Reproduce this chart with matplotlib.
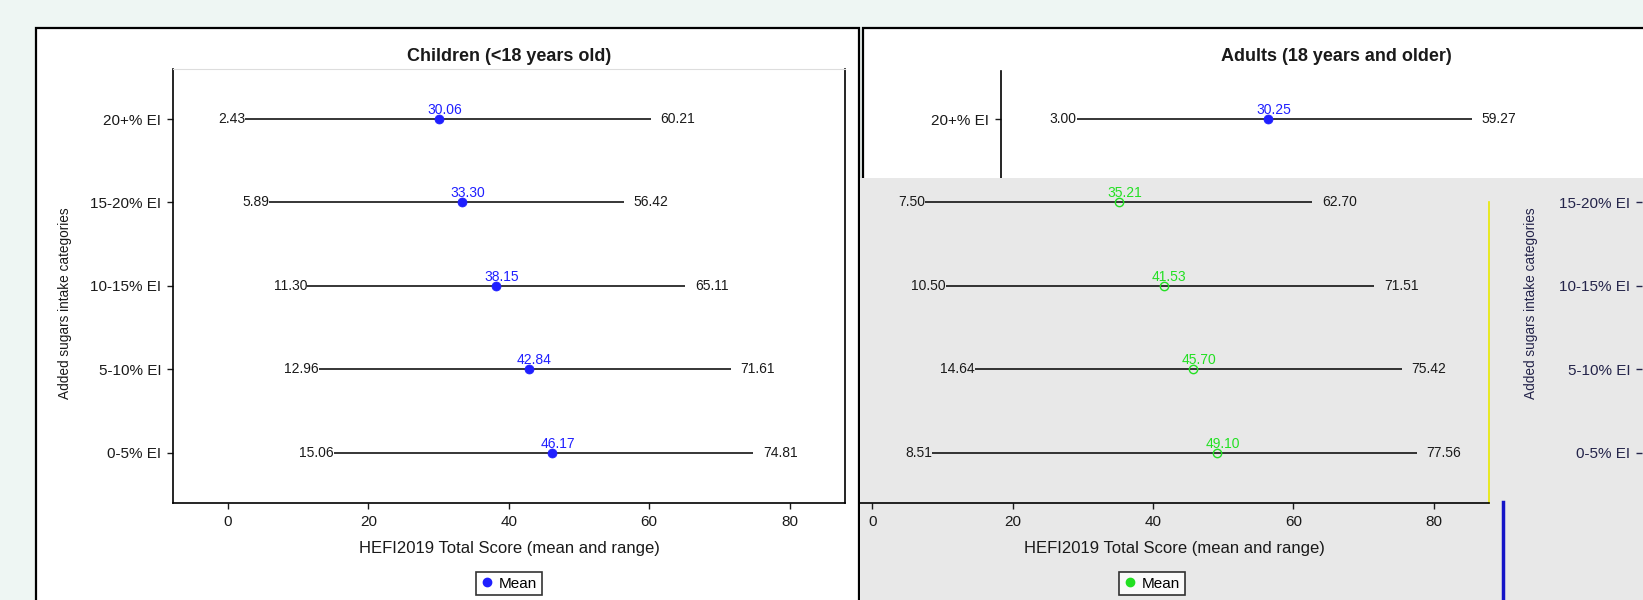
import numpy as np
import matplotlib
matplotlib.use("Agg")
import matplotlib.pyplot as plt
from matplotlib.patches import Rectangle
from matplotlib.lines import Line2D

# added-sugar categories, bottom row first
categories = ["0-5% EI", "5-10% EI", "10-15% EI", "15-20% EI", "20+% EI"]

child_min = [15.06, 12.96, 11.30, 5.89, 2.43]
child_mean = [46.17, 42.84, 38.15, 33.30, 30.06]
child_max = [74.81, 71.61, 65.11, 56.42, 60.21]

adult_min = [8.51, 14.64, 10.50, 7.50, 3.00]
adult_mean = [49.10, 45.70, 41.53, 35.21, 30.25]
adult_max = [77.56, 75.42, 71.51, 62.70, 59.27]

x_ticks = [0, 20, 40, 60, 80]

W, H = 1643, 600
BLUE = "#1f1fff"
GREEN = "#22e022"
INK = "#1a1a1a"
NAVY_INK = "#24244a"
GREY_BG = "#e8e8e8"


def px_box(x0, y0, x1, y1):
    return [x0 / W, 1 - y1 / H, (x1 - x0) / W, (y1 - y0) / H]


def px_pt(x, y):
    return x / W, 1 - y / H


def draw_ranges(ax, lo, mid, hi, color, hollow=False):
    y = np.arange(1, len(categories) + 1)
    ax.hlines(y, lo, hi, color="black", lw=1.1, zorder=2)
    ax.plot(mid, y, "o", ls="none", ms=6 if hollow else 6.5,
            mfc="none" if hollow else color, mec=color,
            mew=1.0 if hollow else 0.5, zorder=3)
    for yi, a, m, b in zip(y, lo, mid, hi):
        ax.annotate(f"{a:.2f}", (a, yi), xytext=(0, 0), textcoords="offset points",
                    ha="right", va="center", fontsize=10, color=INK)
        ax.annotate(f"{b:.2f}", (b, yi), xytext=(7, 0), textcoords="offset points",
                    ha="left", va="center", fontsize=10, color=INK)
        ax.annotate(f"{m:.2f}", (m, yi), xytext=(4, 1.5), textcoords="offset points",
                    ha="center", va="bottom", fontsize=10, color=color)


def style_x(ax):
    ax.set_xticks(x_ticks)
    ax.tick_params(axis="x", direction="out", length=4.5, width=1, pad=4,
                   labelsize=11, colors=INK)
    ax.set_xlabel("HEFI2019 Total Score (mean and range)", fontsize=12,
                  color=INK, labelpad=9)


def style_y(ax, label_color=INK):
    ax.set_yticks(np.arange(1, len(categories) + 1))
    ax.set_yticklabels(categories)
    ax.tick_params(axis="y", direction="out", length=4.5, width=1, pad=4,
                   labelsize=11, colors=label_color)


def add_legend(color, center):
    h = Line2D([], [], marker="o", ls="none", color=color, ms=6, label="Mean")
    leg = fig.legend(handles=[h], loc="center", bbox_to_anchor=px_pt(*center),
                     bbox_transform=fig.transFigure, frameon=True, fancybox=False,
                     edgecolor="black", fontsize=11, handlelength=0.8,
                     handletextpad=0.4, borderpad=0.3, borderaxespad=0)
    leg.get_frame().set_linewidth(1.2)
    leg.set_zorder(4)
    return leg


plt.rcParams["font.family"] = ["Liberation Sans", "DejaVu Sans"]

fig = plt.figure(figsize=(W / 100, H / 100), dpi=100, facecolor="#eef6f3")

# white panel frames
for x0, x1 in [(35.7, 858.5), (863.0, 1700.0)]:
    fig.patches.append(Rectangle(px_pt(x0, 640), (x1 - x0) / W, (640 - 27.7) / H,
                                 transform=fig.transFigure, facecolor="white",
                                 edgecolor="black", lw=1.6, zorder=-1))

XLIM = (-7.8, 87.9)
YLIM = (0.4, 5.6)
ax_w = 845.0 - 173.3
px_per_row = (502.7 - 69) / (YLIM[1] - YLIM[0])
y_cut = YLIM[1] - (178 - 69) / px_per_row   # row value at the top of the grey block

# children panel
ax1 = fig.add_axes(px_box(173.3, 69, 845.0, 502.7), facecolor="white")
draw_ranges(ax1, child_min, child_mean, child_max, BLUE)
style_x(ax1)
style_y(ax1)
ax1.set_xlim(*XLIM)
ax1.set_ylim(*YLIM)
ax1.spines["top"].set_color("#dddddd")
for s in ["left", "right", "bottom"]:
    ax1.spines[s].set_linewidth(1.2)
ax1.set_title("Children (<18 years old)", fontsize=13, fontweight="bold",
              color=INK, pad=5.5)
ax1.set_ylabel("Added sugars intake categories", fontsize=9.8, color=INK)
ax1.yaxis.set_label_coords(*px_pt(72, 303), transform=fig.transFigure)
add_legend(BLUE, (509, 583.5))

# adults panel, upper strip (the rest sits under the grey block)
shift = 827.6
ax2 = fig.add_axes(px_box(173.3 + shift, 69, 173.3 + shift + ax_w, 178),
                   facecolor="white")
draw_ranges(ax2, adult_min, adult_mean, adult_max, BLUE)
style_y(ax2)
ax2.set_xticks([])
ax2.set_xlim(*XLIM)
ax2.set_ylim(y_cut, YLIM[1])
for s in ["top", "right", "bottom"]:
    ax2.spines[s].set_visible(False)
ax2.spines["left"].set_linewidth(1.2)
ax2.spines["left"].set_bounds(y_cut, YLIM[1] - 2.4 / px_per_row)
ax2.set_title("Adults (18 years and older)", fontsize=13, fontweight="bold",
              color=INK, pad=5.5)

# grey block over the lower part of the adults panel
fig.patches.append(Rectangle(px_pt(860, 600), (W - 860) / W, (600 - 178) / H,
                             transform=fig.transFigure, facecolor=GREY_BG,
                             edgecolor="none", zorder=1))

zero_px = 872.3
scale = ax_w / (XLIM[1] - XLIM[0])
ax3 = fig.add_axes(px_box(860, 178, zero_px + XLIM[1] * scale, 502.7))
ax3.set_zorder(2)
ax3.patch.set_visible(False)
draw_ranges(ax3, adult_min, adult_mean, adult_max, GREEN, hollow=True)
style_x(ax3)
ax3.set_yticks([])
ax3.set_xlim((860 - zero_px) / scale, XLIM[1])
ax3.set_ylim(YLIM[0], y_cut)
ax3.spines["left"].set_visible(False)
ax3.spines["top"].set_visible(False)
ax3.spines["bottom"].set_linewidth(1.2)
ax3.spines["right"].set_color("#e8e800")
ax3.spines["right"].set_linewidth(1.2)
ax3.spines["right"].set_bounds(YLIM[0], 4.0)
add_legend(GREEN, (1152, 583.5))

# category axis repeated at the right edge of the grey block
ax4 = fig.add_axes(px_box(1642, 178, 1660, 502.7))
ax4.set_zorder(2)
ax4.patch.set_visible(False)
style_y(ax4, label_color=NAVY_INK)
ax4.set_yticks(np.arange(1, len(categories)))
ax4.set_yticklabels(categories[:-1])
ax4.set_ylim(YLIM[0], y_cut)
ax4.set_xticks([])
for s in ax4.spines.values():
    s.set_visible(False)
ax4.set_ylabel("Added sugars intake categories", fontsize=9.8, color=NAVY_INK)
ax4.yaxis.set_label_coords(*px_pt(1538, 303), transform=fig.transFigure)

fig.add_artist(Line2D([1503 / W, 1503 / W], [1 - 502 / H, 0], color="#1414c8",
                      lw=2.5, zorder=3, transform=fig.transFigure))

fig.savefig("out.png", dpi=100, facecolor=fig.get_facecolor())
